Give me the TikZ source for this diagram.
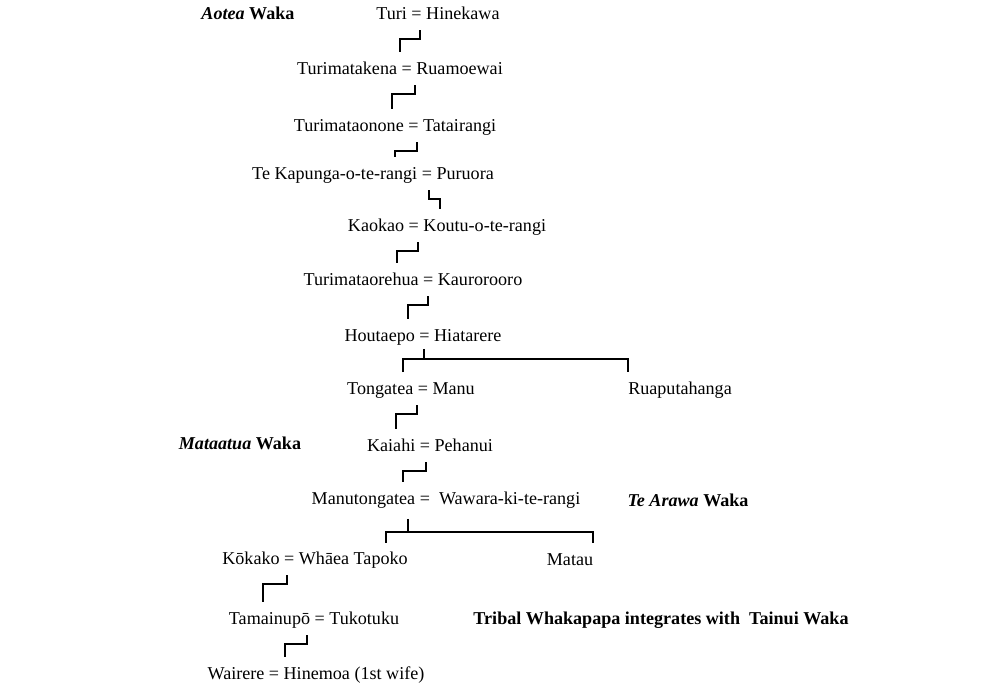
\documentclass[tikz,border=0pt]{standalone}
\usepackage{fontspec}
\setmainfont{Liberation Serif}
\usetikzlibrary{positioning,calc}

% step from one couple down to the next
\newcommand{\kinstep}[4]{%
  \draw[kinline] ($(#1.south -| #3,0)+(0,-4pt)$) -- ++(0,-5pt) -| ($(#2.north -| #4,0)+(0,5.5pt)$);}

\begin{document}
\begin{tikzpicture}[x=0.02cm, y=-0.02cm,
    person/.style={inner sep=0pt, text height=7pt, text depth=2pt, font=\fontsize{10.3}{12}\selectfont},
    waka/.style={person, font=\fontsize{10.3}{12}\selectfont\bfseries},
    kinline/.style={line width=1.1pt}]
    \useasboundingbox (0,0) rectangle (996,688);
    % Aotea line
    \node[waka] (aotea) at (248,15) {\textit{Aotea} Waka};
    \node[person] (turi) at (438,15) {Turi = Hinekawa};
    \node[person] (turimatakena) at (400,70) {Turimatakena = Ruamoewai};
    \node[person] (turimataonone) at (395,127) {Turimataonone = Tatairangi};
    \node[person] (tekapunga) at (373,175) {Te Kapunga-o-te-rangi = Puruora};
    \node[person] (kaokao) at (447,227) {Kaokao = Koutu-o-te-rangi};
    \node[person] (turimataorehua) at (413,281) {Turimataorehua = Kaurorooro};
    \node[person] (houtaepo) at (423,337) {Houtaepo = Hiatarere};
    \node[person] (tongatea) at (411,390) {Tongatea = Manu};
    \node[person] (ruaputahanga) at (680,390) {Ruaputahanga};
    % Mataatua line
    \node[waka] (mataatua) at (240,445) {\textit{Mataatua} Waka};
    \node[person] (kaiahi) at (430,447) {Kaiahi = Pehanui};
    \node[person] (manutongatea) at (446,500) {Manutongatea = \ Wawara-ki-te-rangi};
    \node[waka] (tearawa) at (688,502) {\textit{Te Arawa} Waka};
    \node[person] (kokako) at (315,560) {Kōkako = Whāea Tapoko};
    \node[person] (matau) at (570,561) {Matau};
    \node[person] (tamainupo) at (314,620) {Tamainupō = Tukotuku};
    \node[waka] (tainui) at (661,620) {Tribal Whakapapa integrates with \ Tainui Waka};
    \node[person] (wairere) at (316,675) {Wairere = Hinemoa (1st wife)};

    \kinstep{turi}{turimatakena}{420}{400}
    \kinstep{turimatakena}{turimataonone}{415}{392}
    \kinstep{turimataonone}{tekapunga}{417}{395}
    \kinstep{tekapunga}{kaokao}{429}{440}
    \kinstep{kaokao}{turimataorehua}{418}{397}
    \kinstep{turimataorehua}{houtaepo}{428}{408}
    \kinstep{tongatea}{kaiahi}{417}{396}
    \kinstep{kaiahi}{manutongatea}{426}{403}
    \kinstep{kokako}{tamainupo}{287}{263}
    \kinstep{tamainupo}{wairere}{307}{285}

    % children of Houtaepo
    \coordinate (houtaepo bar) at (424,359);
    \draw[kinline] ($(houtaepo.south -| houtaepo bar)+(0,-2pt)$) -- (houtaepo bar);
    \draw[kinline] ($(tongatea.north -| 403,0)+(0,5.5pt)$) |- (houtaepo bar -| 628,0)
        -- ($(ruaputahanga.north -| 628,0)+(0,5.5pt)$);
    % children of Manutongatea
    \coordinate (manu bar) at (408,532);
    \draw[kinline] ($(manutongatea.south -| manu bar)+(0,-6pt)$) -- (manu bar);
    \draw[kinline] ($(kokako.north -| 386,0)+(0,5pt)$) |- (manu bar -| 593,0)
        -- ($(matau.north -| 593,0)+(0,5.5pt)$);
\end{tikzpicture}
\end{document}
